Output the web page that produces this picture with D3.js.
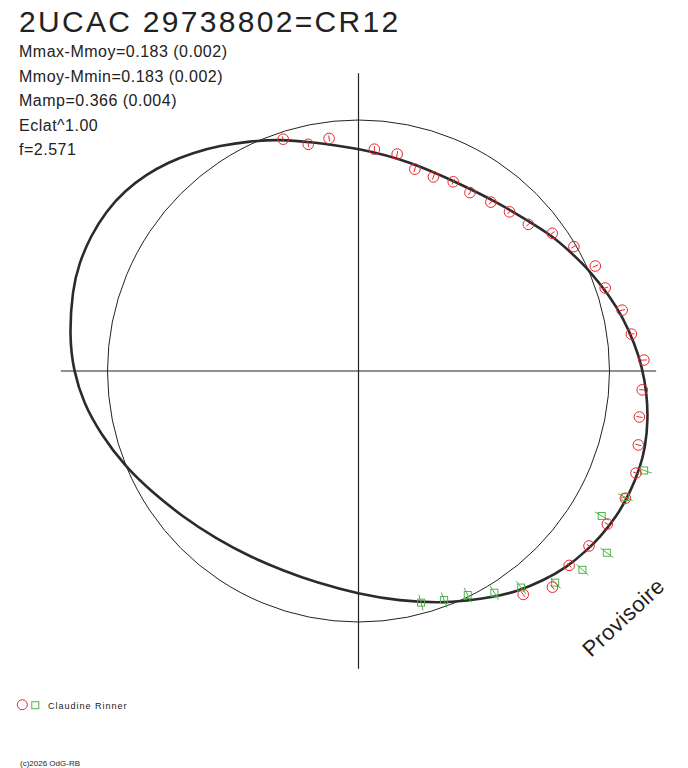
<!DOCTYPE html>
<html>
<head>
<meta charset="utf-8">
<script src="https://cdn.jsdelivr.net/npm/d3@7"></script>
<style>
  body { margin: 0; background: #fff; }
  svg text { font-family: "Liberation Sans", Arial, sans-serif; fill: #222; }
</style>
</head>
<body>
<svg id="polar"></svg>
<script>
// fitted light curve, angle in degrees clockwise from top, radius in units of the mean circle
const curveAngle = [0, 13.9, 28.6, 39.9, 49.0, 55.0, 60.6, 66.4, 73.6, 78.5, 84.2, 89.2, 94.4, 99.6,
  104.8, 108.8, 114.2, 119.5, 124.5, 128.1, 133.4, 138.6, 144.4, 149.2, 154.7, 160.6, 169.8, 180.1,
  191.1, 200.8, 210.3, 220.3, 230.2, 240.3, 247.6, 256.5, 263.4, 270, 276.7, 285.8, 291.1, 296.7,
  302.4, 307.8, 312.8, 317.5, 322.8, 328.4, 334.7, 341.3, 348];
const curveRadius = [0.888, 0.860, 0.848, 0.872, 0.905, 0.940, 0.968, 1.004, 1.045, 1.074, 1.105, 1.130,
  1.152, 1.170, 1.182, 1.186, 1.186, 1.180, 1.168, 1.157, 1.140, 1.113, 1.082, 1.048, 1.012, 0.980,
  0.931, 0.888, 0.860, 0.850, 0.857, 0.876, 0.910, 0.957, 1.004, 1.059, 1.103, 1.135, 1.160, 1.185,
  1.193, 1.195, 1.190, 1.175, 1.152, 1.126, 1.092, 1.054, 1.013, 0.974, 0.933];

// observations, series 1 (red circles)
const redAngle = [342.0, 347.5, 352.8, 4.1, 10.1, 15.6, 21.1, 26.6, 32.0, 38.1, 43.5, 49.2, 54.6, 60.0,
  66.1, 71.4, 77.0, 82.3, 87.8, 93.8, 99.3, 104.8, 110.2, 115.5, 121.6, 127.2, 132.7, 138.1, 143.6];
const redRadius = [0.971, 0.925, 0.934, 0.886, 0.878, 0.835, 0.829, 0.843, 0.838, 0.855, 0.874, 0.894,
  0.947, 0.991, 1.032, 1.037, 1.078, 1.097, 1.138, 1.133, 1.134, 1.153, 1.178, 1.178, 1.164, 1.153,
  1.142, 1.157, 1.106];
const redError = 0.012;

// observations, series 2 (green squares)
const greenAngle = [109.2, 115.3, 120.8, 126.2, 131.6, 137.1, 143.1, 148.5, 154.0, 159.5, 164.9];
const greenRadius = [1.205, 1.176, 1.128, 1.226, 1.193, 1.151, 1.079, 1.036, 0.993, 0.974, 0.956];
const greenError = 0.032;

const title = "2UCAC 29738802=CR12";
const statLines = ["Mmax-Mmoy=0.183 (0.002)", "Mmoy-Mmin=0.183 (0.002)", "Mamp=0.366 (0.004)",
  "Eclat^1.00", "f=2.571"];
const observer = "Claudine Rinner";

const width = 688, height = 768;
const cx = 358.5, cy = 371;
const axisExtent = 1.186;
const red = "#e8262c", green = "#4fb548";

const svg = d3.select("#polar")
  .attr("width", width)
  .attr("height", height);

const r = d3.scaleLinear().domain([0, 1]).range([0, 251]);
const rad = d => d * Math.PI / 180;

const plot = svg.append("g")
  .attr("transform", `translate(${cx},${cy})`);

// axes through the centre
[0, 90].forEach(a => {
  const p1 = d3.pointRadial(rad(a), r(axisExtent));
  const p2 = d3.pointRadial(rad(a + 180), r(axisExtent));
  plot.append("line")
    .attr("x1", p1[0]).attr("y1", p1[1])
    .attr("x2", p2[0]).attr("y2", p2[1])
    .attr("stroke", "#222")
    .attr("stroke-width", 1.2);
});

// mean circle
plot.append("circle")
  .attr("r", r(1))
  .attr("fill", "none")
  .attr("stroke", "#222")
  .attr("stroke-width", 1);

// fitted curve
const curve = curveAngle.map((a, i) => ({ a, v: curveRadius[i] }));
const line = d3.lineRadial()
  .angle(d => rad(d.a))
  .radius(d => r(d.v))
  .curve(d3.curveBasisClosed);

plot.append("path")
  .datum(curve)
  .attr("d", line)
  .attr("fill", "none")
  .attr("stroke", "#2b2b2b")
  .attr("stroke-width", 2.6);

// radial error bar
function errorBar(g, a, v, e, color) {
  const p1 = d3.pointRadial(rad(a), r(v - e));
  const p2 = d3.pointRadial(rad(a), r(v + e));
  g.append("line")
    .attr("x1", p1[0]).attr("y1", p1[1])
    .attr("x2", p2[0]).attr("y2", p2[1])
    .attr("stroke", color)
    .attr("stroke-width", 1);
}

// green squares
const greenG = plot.append("g");
greenAngle.forEach((a, i) => {
  const v = greenRadius[i];
  const p = d3.pointRadial(rad(a), r(v));
  errorBar(greenG, a, v, greenError, green);
  greenG.append("rect")
    .attr("x", p[0] - 3.5).attr("y", p[1] - 3.5)
    .attr("width", 7).attr("height", 7)
    .attr("fill", "none")
    .attr("stroke", green)
    .attr("stroke-width", 1);
});

// red circles
const redG = plot.append("g");
redAngle.forEach((a, i) => {
  const v = redRadius[i];
  const p = d3.pointRadial(rad(a), r(v));
  errorBar(redG, a, v, redError, red);
  redG.append("circle")
    .attr("cx", p[0]).attr("cy", p[1])
    .attr("r", 5.3)
    .attr("fill", "none")
    .attr("stroke", red)
    .attr("stroke-width", 1);
});

// texts
svg.append("text")
  .attr("x", 19).attr("y", 32)
  .style("font-size", "30px")
  .style("letter-spacing", "2.3px")
  .text(title);

svg.selectAll(".stat")
  .data(statLines)
  .enter()
  .append("text")
  .attr("class", "stat")
  .attr("x", 19)
  .attr("y", (d, i) => 57 + i * 24.5)
  .style("font-size", "16px")
  .style("letter-spacing", "0.5px")
  .text(d => d);

svg.append("text")
  .attr("transform", "translate(591,658) rotate(-43)")
  .style("font-size", "22px")
  .style("letter-spacing", "0.5px")
  .text("Provisoire");

// legend
svg.append("circle")
  .attr("cx", 22.3).attr("cy", 704.7).attr("r", 5)
  .attr("fill", "none").attr("stroke", red).attr("stroke-width", 1);
svg.append("rect")
  .attr("x", 31.8).attr("y", 701.7).attr("width", 7).attr("height", 7)
  .attr("fill", "none").attr("stroke", green).attr("stroke-width", 1);
svg.append("text")
  .attr("x", 48).attr("y", 709)
  .style("font-size", "9px")
  .style("letter-spacing", "1px")
  .text(observer);

svg.append("text")
  .attr("x", 20).attr("y", 766)
  .style("font-size", "8px")
  .text("(c)2026 OdG-RB");
</script>
</body>
</html>
